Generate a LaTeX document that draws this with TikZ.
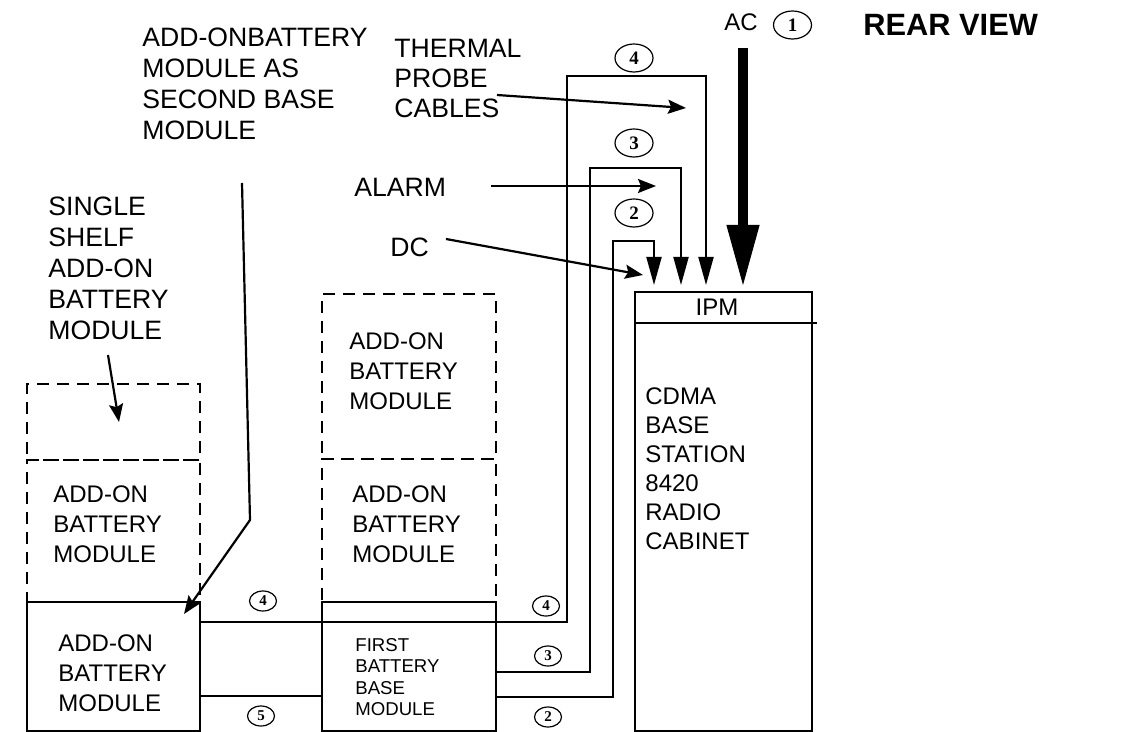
\documentclass[tikz,border=0pt]{standalone}
\usepackage{fontspec}
\setmainfont{Liberation Sans}
\newfontfamily\numfont{Liberation Serif}
\usetikzlibrary{arrows.meta,shapes.geometric}

\begin{document}
\begin{tikzpicture}[x=0.5pt,y=-0.5pt,
    lbl/.style={align=left,inner sep=0pt,anchor=north west,font=\fontsize{12}{15}\selectfont},
    biglbl/.style={lbl,font=\fontsize{13.3}{15.5}\selectfont},
    dashbox/.style={draw,line width=1pt,dash pattern=on 6pt off 4pt},
    solidbox/.style={draw,line width=1pt},
    cable/.style={line width=1pt},
    feed/.style={line width=1pt,-{Triangle[length=14pt,width=7.5pt]}},
    pointer/.style={line width=1.1pt,-{Stealth[length=9pt,width=7pt,inset=1.5pt]}},
    bignum/.style={ellipse,draw,line width=0.6pt,inner sep=0pt,minimum width=19pt,minimum height=14pt,font=\numfont\bfseries\fontsize{9.5}{10}\selectfont},
    smallnum/.style={bignum,minimum width=13.5pt,minimum height=10pt,font=\numfont\bfseries\fontsize{7.5}{8}\selectfont}]
    \useasboundingbox (0,0) rectangle (1139,732);

    \node[dashbox,minimum width=86.5pt,minimum height=38pt] (single) at (113.5,422) {};
    \node[dashbox,minimum width=86.5pt,minimum height=71pt] (lmod) at (113.5,531) {};
    \node[solidbox,minimum width=86.5pt,minimum height=64.5pt] (secbase) at (113.5,666.5) {};
    \node[dashbox,minimum width=87pt,minimum height=82.5pt] (mtop) at (409,376.5) {};
    \node[dashbox,minimum width=87pt,minimum height=71.5pt] (mmid) at (409,530.5) {};
    \node[solidbox,minimum width=87pt,minimum height=64.5pt] (firstbase) at (409,666.5) {};
    \node[solidbox,minimum width=88.5pt,minimum height=219.5pt] (ipm) at (723.5,511.5) {};
    \draw[cable] (ipm.west |- 0,323) -- (817,323);

    \node[lbl] (lmodtxt) at (53,485) {ADD-ON\\BATTERY\\MODULE};
    \node[lbl] (secbasetxt) at (58,634) {ADD-ON\\BATTERY\\MODULE};
    \node[lbl] (mtoptxt) at (349,332) {ADD-ON\\BATTERY\\MODULE};
    \node[lbl] (mmidtxt) at (352,485) {ADD-ON\\BATTERY\\MODULE};
    \node[lbl,font=\fontsize{9.3}{10.75}\selectfont] (firsttxt) at (355,638) {FIRST\\BATTERY\\BASE\\MODULE};
    \node[lbl,font=\fontsize{12}{14.5}\selectfont] (cdma) at (645,387) {CDMA\\BASE\\STATION\\8420\\RADIO\\CABINET};
    \node[anchor=base,inner sep=0pt,font=\fontsize{12}{15}\selectfont] (ipmtxt) at (717,315) {IPM};

    \node[biglbl] (secondlbl) at (142,28) {ADD-ONBATTERY\\MODULE AS\\SECOND BASE\\MODULE};
    \node[biglbl,font=\fontsize{13.3}{15}\selectfont] (thermal) at (394,39) {THERMAL\\PROBE\\CABLES};
    \node[biglbl] (alarm) at (354,178) {ALARM};
    \node[biglbl] (dc) at (390,238) {DC};
    \node[biglbl] (singlelbl) at (48,197) {SINGLE\\SHELF\\ADD-ON\\BATTERY\\MODULE};
    \node[lbl] (ac) at (724,13) {AC};
    \node[lbl,font=\bfseries\fontsize{15.4}{18}\selectfont] (rear) at (863,14) {REAR VIEW};

    \node[bignum] (n1) at (792.5,25) {1};
    \node[bignum] (n4top) at (634,58) {4};
    \node[bignum] (n3top) at (634,143) {3};
    \node[bignum] (n2top) at (634,213) {2};
    \node[smallnum] (n4left) at (263,601) {4};
    \node[smallnum] (n5) at (261,716) {5};
    \node[smallnum] (n4right) at (546,606) {4};
    \node[smallnum] (n3low) at (548,656) {3};
    \node[smallnum] (n2low) at (548,717) {2};

    \coordinate (in2) at (654,285);
    \coordinate (in3) at (681,285);
    \coordinate (in4) at (706,285);
    \draw[feed] (secbase.east |- 0,622) -- (567,622) -- (567,76) -- (706,76) -- (in4);
    \draw[cable] (secbase.east |- 0,696) -- (firstbase.west |- 0,696);
    \draw[feed] (firstbase.east |- 0,672) -- (590,672) -- (590,168) -- (681,168) -- (in3);
    \draw[feed] (firstbase.east |- 0,697) -- (613,697) -- (613,241) -- (654,241) -- (in2);

    \coordinate (acfrom) at (743,48);
    \coordinate (acto) at (743,285);
    \draw[line width=5pt,-{Triangle[length=30pt,width=16.5pt,line width=0.5pt]}] (acfrom) -- (acto);

    \coordinate (thfrom) at (497,95);
    \coordinate (thto) at (686,108);
    \coordinate (alfrom) at (491,186);
    \coordinate (alto) at (656,186);
    \coordinate (dcfrom) at (446,239);
    \coordinate (dcto) at (643,275);
    \coordinate (sbfrom) at (242,183);
    \coordinate (sbbend) at (250,520);
    \coordinate (sbto) at (184,614);
    \coordinate (ssfrom) at (108,355);
    \coordinate (ssto) at (119,422);
    \draw[pointer] (thfrom) -- (thto);
    \draw[pointer] (alfrom) -- (alto);
    \draw[pointer] (dcfrom) -- (dcto);
    \draw[pointer] (sbfrom) -- (sbbend) -- (sbto);
    \draw[pointer] (ssfrom) -- (ssto);
\end{tikzpicture}
\end{document}
